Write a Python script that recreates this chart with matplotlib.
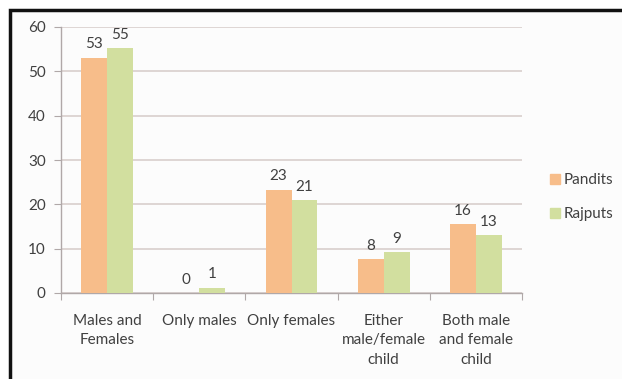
import numpy as np
import matplotlib.pyplot as plt
from matplotlib.lines import Line2D

categories = ["Males and\nFemales", "Only males", "Only females",
              "Either\nmale/female\nchild", "Both male\nand female\nchild"]
pandits = [53.1, 0.0, 23.3, 7.6, 15.6]
rajputs = [55.3, 1.2, 21.0, 9.2, 13.1]
series_names = ["Pandits", "Rajputs"]
y_ticks = [0, 10, 20, 30, 40, 50, 60]

orange = "#F7BD8A"
green = "#D2DF9F"
text_col = "#404040"
grid_col = "#D8CFCC"

plt.rcParams['font.family'] = ['Lato', 'DejaVu Sans']

fig = plt.figure(figsize=(6.22, 3.79), dpi=100)
fig.patch.set_facecolor("white")

# frame around the chart (left and top visible, rest clipped)
x0 = 10 / 622
y1 = 1 - 10 / 379
fig.add_artist(plt.Rectangle((x0, -0.05), 1.1, y1 + 0.05, transform=fig.transFigure,
                             facecolor="#FCFCFC", edgecolor="#111111", linewidth=2.5,
                             zorder=-10))

ax = fig.add_axes([61 / 622, 1 - 293 / 379, (522 - 61) / 622, (293 - 27) / 379])
ax.set_facecolor("none")

x = np.arange(len(categories))
w = 0.28
b1 = ax.bar(x - w / 2, pandits, w, color=orange, label=series_names[0], zorder=3)
b2 = ax.bar(x + w / 2, rajputs, w, color=green, label=series_names[1], zorder=3)

for bars in (b1, b2):
    for rect in bars:
        h = rect.get_height()
        ax.annotate("%.0f" % h, (rect.get_x() + rect.get_width() / 2, h),
                    xytext=(0, 4.5), textcoords="offset points",
                    ha="center", va="bottom", fontsize=11, color=text_col)

ax.set_xlim(-0.5, len(categories) - 0.5)
ax.set_ylim(0, 60)
ax.set_yticks(y_ticks)
ax.yaxis.grid(True, color=grid_col, linewidth=1.2, zorder=0)
ax.set_axisbelow(True)

ax.set_xticks(np.arange(-0.5, len(categories), 1.0))
ax.set_xticklabels([])
ax.set_xticks(x, minor=True)
ax.set_xticklabels(categories, minor=True, fontsize=11, color=text_col, linespacing=1.5)
ax.tick_params(axis="x", which="minor", length=0, pad=15)
ax.tick_params(axis="x", which="major", length=5, color="#B0A8A8", direction="out")
ax.tick_params(axis="y", length=5, color="#B0A8A8", labelsize=11, labelcolor=text_col, pad=6)

for s in ("top", "right"):
    ax.spines[s].set_visible(False)
for s in ("left", "bottom"):
    ax.spines[s].set_color("#B0A8A8")
    ax.spines[s].set_linewidth(1.0)

handles = [Line2D([], [], marker="s", linestyle="none", markersize=7,
                  markerfacecolor=c, markeredgecolor=c) for c in (orange, green)]
leg = fig.legend(handles, series_names, loc="center left",
                 bbox_to_anchor=(535 / 622, 1 - 197 / 379), frameon=False,
                 fontsize=11, handletextpad=0.2, labelspacing=1.3, handlelength=0.8)
for t in leg.get_texts():
    t.set_color(text_col)

fig.savefig("out.png", dpi=100)
